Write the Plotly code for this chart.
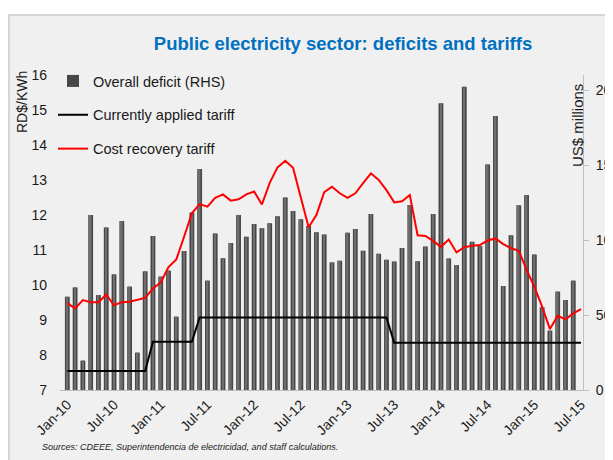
import plotly.graph_objects as go

# ---- data ----
month_names = ["Jan", "Feb", "Mar", "Apr", "May", "Jun",
               "Jul", "Aug", "Sep", "Oct", "Nov", "Dec"]
months = [f"{m}-{y:02d}" for y in range(10, 16) for m in month_names][:67]  # Jan-10 .. Jul-15

deficit = [62.2, 68.4, 19.6, 116.7, 63.3, 108.4, 77.1, 112.7, 68.9, 24.9, 79.1, 102.7,
           75.6, 79.6, 48.9, 92.7, 118.4, 147.3, 72.9, 104.4, 87.8, 98.0, 116.7, 102.2,
           110.7, 107.8, 111.1, 115.8, 128.4, 119.3, 113.8, 109.3, 105.1, 103.6, 85.1, 86.2,
           104.9, 107.3, 92.9, 117.3, 90.9, 86.9, 85.6, 94.7, 123.3, 85.8, 95.6, 117.3,
           191.1, 87.6, 83.3, 202.2, 98.9, 96.0, 150.4, 182.7, 69.3, 103.1, 123.1, 130.0,
           90.4, 55.1, 39.6, 65.6, 60.0, 72.9, None]

applied = [7.54] * 11 + [8.38] * 6 + [9.07] * 25 + [8.35] * 25

cost = [9.48, 9.33, 9.57, 9.51, 9.51, 9.73, 9.42, 9.51, 9.52, 9.57, 9.63, 9.90,
        10.07, 10.51, 10.73, 11.38, 12.05, 12.31, 12.24, 12.49, 12.59, 12.41, 12.45, 12.59,
        12.67, 12.30, 12.92, 13.36, 13.55, 13.35, 12.48, 11.65, 12.00, 12.65, 12.81, 12.62,
        12.49, 12.62, 12.91, 13.19, 13.00, 12.71, 12.36, 12.39, 12.57, 11.42, 11.40, 11.26,
        11.09, 11.30, 10.93, 11.08, 11.12, 11.14, 11.27, 11.33, 11.17, 11.05, 10.98, 10.43,
        9.95, 9.38, 8.74, 9.12, 9.02, 9.19, 9.31]

tick_labels = months[::6]

title_text = "Public electricity sector: deficits and tariffs"
source_text = "Sources: CDEEE, Superintendencia de electricidad, and staff calculations."

# ---- figure ----
OFF = 8                      # page body margin: figure starts 8px in
W, H = 613 - OFF, 460 - OFF
f = lambda p: p - OFF        # page pixel -> figure pixel
L, R, T, B = f(60), f(583), f(75), f(390)  # plot area in figure pixels
FONT = "Liberation Sans, Arial, sans-serif"

fig = go.Figure()

fig.add_trace(go.Bar(
    x=months, y=deficit, name="Overall deficit (RHS)", yaxis="y",
    width=0.62, marker=dict(color="#474747", line=dict(width=0)),
    legendgroup="a",
))
fig.add_trace(go.Bar(
    x=months, y=deficit, name="hl", yaxis="y", showlegend=False, hoverinfo="skip",
    width=0.22, marker=dict(color="#6e6e6e", line=dict(width=0)),
))
fig.add_trace(go.Scatter(
    x=months, y=applied, name="Currently applied tariff", yaxis="y2",
    mode="lines", line=dict(color="#000000", width=2), legendgroup="b",
))
fig.add_trace(go.Scatter(
    x=months, y=cost, name="Cost recovery tariff", yaxis="y2",
    mode="lines", line=dict(color="#FF0000", width=2), legendgroup="c",
))

px2x = lambda px: (f(px) - L) / (R - L)
py2y = lambda py: (B - f(py)) / (B - T)

fig.update_layout(
    width=W, height=H,
    margin=dict(l=L, r=W - R, t=T, b=H - B, pad=0, autoexpand=False),
    paper_bgcolor="white", plot_bgcolor="#f0f0f0",
    barmode="overlay",
    font=dict(family=FONT, size=13, color="#1a1a1a"),
    title=dict(text=f"<b>{title_text}</b>", x=f(343) / W, xanchor="center",
               y=1 - f(44) / H, yanchor="middle", automargin=False,
               font=dict(family=FONT, size=18.5, color="#0070C0")),
    xaxis=dict(type="category", range=[-0.94, 66.25], tickvals=tick_labels,
               ticktext=tick_labels, tickangle=-45, showgrid=False, automargin=False,
               showline=True, linecolor="#bfbfbf", linewidth=1, ticks="",
               tickfont=dict(size=14, color="#1a1a1a")),
    yaxis=dict(side="right", range=[0, 210], tickvals=[0, 50, 100, 150, 200],
               showgrid=False, zeroline=False, showline=True, linecolor="#bfbfbf",
               linewidth=1, ticks="outside", ticklen=5, tickcolor="#bfbfbf", automargin=False,
               tickfont=dict(size=14, color="#1a1a1a"), ticklabelstandoff=4),
    yaxis2=dict(overlaying="y", side="left", range=[7, 16], dtick=1, automargin=False,
                showgrid=False, zeroline=False, showline=False, ticks="",
                tickfont=dict(size=14, color="#1a1a1a"), ticklabelstandoff=12),
    legend=dict(x=px2x(53), y=py2y(65), xanchor="left", yanchor="top",
                bgcolor="rgba(0,0,0,0)", font=dict(size=14.5, color="#1a1a1a"),
                tracegroupgap=12, traceorder="grouped", itemwidth=30),
    showlegend=True,
    shapes=[dict(type="rect", xref="paper", yref="paper", layer="below",
                 x0=px2x(9), x1=px2x(640), y0=py2y(480), y1=py2y(15),
                 fillcolor="#f0f0f0", line=dict(color="#d6d6d6", width=2))],
    annotations=[
        dict(text="RD$/KWh", xref="paper", yref="paper", x=px2x(22), y=py2y(102),
             textangle=-90, showarrow=False, xanchor="center", yanchor="middle",
             font=dict(size=14, color="#1a1a1a")),
        dict(text="US$ millions", xref="paper", yref="paper", x=px2x(577), y=py2y(126),
             textangle=-90, showarrow=False, xanchor="center", yanchor="middle",
             font=dict(size=15, color="#1a1a1a")),
        dict(text=f"<i>{source_text}</i>", xref="paper", yref="paper",
             x=px2x(40), y=py2y(447), xanchor="left", yanchor="middle", showarrow=False,
             font=dict(family=FONT, size=9, color="#1a1a1a")),
    ],
)

fig.write_html("out.html")
